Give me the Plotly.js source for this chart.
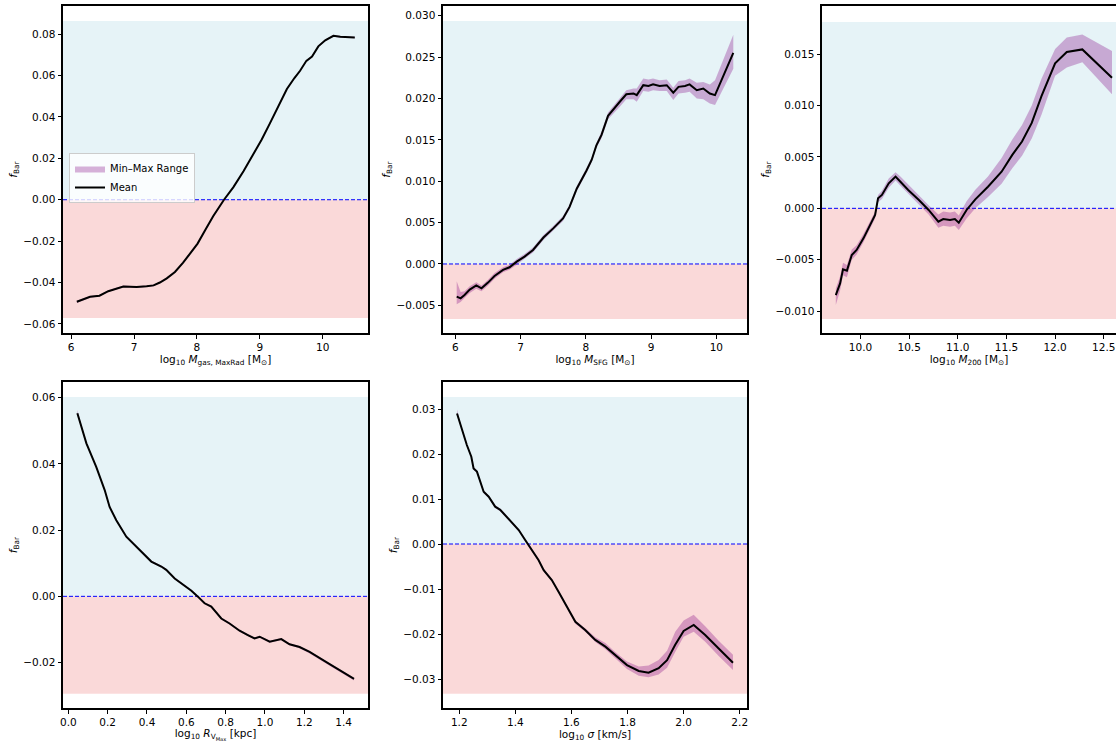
<!DOCTYPE html>
<html>
<head>
<meta charset="utf-8">
<script src="https://cdn.plot.ly/plotly-3.0.1.min.js"></script>
<style>html,body{margin:0;padding:0;background:#fff;}#chart{width:1116px;height:742px;}</style>
</head>
<body>
<div id="chart"></div>
<script>
// ---------- Panel 1: log10 M_gas,MaxRad ----------
const p1_x = [6.09,6.30,6.45,6.59,6.83,7.04,7.20,7.31,7.41,7.52,7.65,7.78,7.89,8.01,8.13,8.26,8.43,8.58,8.74,8.90,9.03,9.16,9.32,9.43,9.55,9.64,9.74,9.83,9.93,10.04,10.17,10.28,10.51];
const p1_mean = [-0.0493,-0.0469,-0.0464,-0.0442,-0.0419,-0.0422,-0.0418,-0.0414,-0.0400,-0.0380,-0.0349,-0.0304,-0.0260,-0.0212,-0.0148,-0.0079,0.0000,0.0061,0.0138,0.0222,0.0291,0.0369,0.0463,0.0535,0.0588,0.0623,0.0671,0.0692,0.0741,0.0770,0.0792,0.0787,0.0784];
const p1_min = [-0.0499,-0.0474,-0.0468,-0.0446,-0.0423,-0.0426,-0.0422,-0.0418,-0.0404,-0.0384,-0.0353,-0.0308,-0.0264,-0.0216,-0.0152,-0.0083,-0.0004,0.0057,0.0134,0.0218,0.0287,0.0365,0.0459,0.0531,0.0584,0.0619,0.0667,0.0688,0.0737,0.0766,0.0788,0.0783,0.0780];
const p1_max = [-0.0488,-0.0465,-0.0460,-0.0438,-0.0415,-0.0418,-0.0414,-0.0410,-0.0396,-0.0376,-0.0345,-0.0300,-0.0256,-0.0208,-0.0144,-0.0075,0.0004,0.0065,0.0142,0.0226,0.0295,0.0373,0.0467,0.0539,0.0592,0.0627,0.0675,0.0696,0.0745,0.0774,0.0797,0.0791,0.0788];
const p1_span = [-0.0572, 0.0864];

// ---------- Panel 2: log10 M_SFG ----------
const p2_x = [6.02,6.08,6.14,6.22,6.32,6.40,6.50,6.60,6.73,6.83,6.94,7.06,7.19,7.35,7.50,7.65,7.75,7.86,8.01,8.09,8.16,8.24,8.34,8.45,8.52,8.62,8.73,8.78,8.88,8.96,9.03,9.13,9.24,9.34,9.42,9.52,9.59,9.70,9.80,9.90,9.98,10.26];
const p2_mean = [-0.00395,-0.00415,-0.00375,-0.0031,-0.00258,-0.00294,-0.00225,-0.00145,-0.00072,-0.0004,0.00028,0.00089,0.0017,0.0032,0.0043,0.0055,0.0069,0.0091,0.0113,0.0126,0.0143,0.0156,0.0179,0.0190,0.0196,0.0205,0.0206,0.0204,0.0216,0.0215,0.0217,0.0215,0.0216,0.0207,0.0214,0.0215,0.0217,0.0210,0.0212,0.0206,0.0204,0.0255];
const p2_min = [-0.00488,-0.0046,-0.0041,-0.0035,-0.0030,-0.0033,-0.0026,-0.0018,-0.0010,-0.0007,-0.0001,0.0006,0.0014,0.0029,0.0040,0.0052,0.0066,0.0088,0.0110,0.0123,0.0140,0.0152,0.0175,0.0185,0.0190,0.0199,0.0199,0.0196,0.0209,0.0208,0.0210,0.0209,0.0209,0.0198,0.0206,0.0207,0.0208,0.0200,0.0199,0.0194,0.0192,0.0236];
const p2_max = [-0.0021,-0.0034,-0.0033,-0.0027,-0.0022,-0.0026,-0.0019,-0.0011,-0.0004,-0.0001,0.0006,0.0012,0.0020,0.0035,0.0046,0.0058,0.0072,0.0094,0.0116,0.0129,0.0146,0.0160,0.0183,0.0194,0.0201,0.0210,0.0212,0.0212,0.0224,0.0223,0.0224,0.0222,0.0223,0.0213,0.0221,0.0222,0.0224,0.0219,0.0220,0.0217,0.0222,0.0277];
const p2_span = [-0.00665, 0.02936];

// ---------- Panel 3: log10 M_200 ----------
const p3_x = [9.746,9.79,9.82,9.86,9.91,9.96,10.03,10.10,10.15,10.18,10.22,10.29,10.36,10.41,10.49,10.60,10.70,10.80,10.85,10.92,10.97,11.01,11.09,11.18,11.31,11.45,11.56,11.66,11.76,11.86,12.00,12.12,12.28,12.585];
const p3_mean = [-0.00843,-0.0073,-0.00593,-0.00606,-0.00454,-0.00405,-0.00292,-0.00162,-0.00065,0.00097,0.0013,0.00243,0.00308,0.00259,0.00178,0.00081,-0.00016,-0.0013,-0.00104,-0.00113,-0.00104,-0.0014,-0.00016,0.00087,0.0021,0.00356,0.0052,0.0065,0.0083,0.0109,0.0141,0.0152,0.01545,0.0127];
const p3_min = [-0.0094,-0.0080,-0.0065,-0.0067,-0.0050,-0.0045,-0.0033,-0.0020,-0.0010,0.0006,0.0009,0.0020,0.0027,0.0022,0.0014,0.0004,-0.0006,-0.0019,-0.0017,-0.0018,-0.0017,-0.0021,-0.0010,0.0000,0.0011,0.0024,0.0039,0.0051,0.0068,0.0091,0.0129,0.0137,0.0142,0.0111];
const p3_max = [-0.0078,-0.0066,-0.0053,-0.0055,-0.0040,-0.0036,-0.0025,-0.0013,-0.0003,0.0013,0.0017,0.0029,0.0035,0.0031,0.0023,0.0013,0.0003,-0.0006,-0.0003,-0.0004,-0.0003,-0.0007,0.0007,0.0018,0.0031,0.0049,0.0067,0.0081,0.0100,0.0126,0.0155,0.0166,0.0169,0.0153];
const p3_span = [-0.01076, 0.01811];

// ---------- Panel 4: log10 R_VMax ----------
const p4_x = [0.046,0.092,0.142,0.185,0.210,0.244,0.295,0.337,0.380,0.422,0.473,0.498,0.541,0.583,0.626,0.659,0.693,0.727,0.778,0.820,0.871,0.913,0.947,0.973,1.024,1.083,1.125,1.176,1.227,1.329,1.453];
const p4_mean = [0.0553,0.0462,0.0391,0.0321,0.0270,0.0230,0.0180,0.0155,0.0130,0.0105,0.0090,0.0080,0.0054,0.0037,0.0017,-0.0001,-0.0021,-0.0031,-0.0067,-0.0082,-0.0104,-0.0117,-0.0127,-0.0122,-0.0137,-0.0129,-0.0145,-0.0153,-0.0168,-0.0205,-0.0249];
const p4_min = [0.0550,0.0459,0.0388,0.0318,0.0267,0.0227,0.0177,0.0152,0.0127,0.0102,0.0087,0.0077,0.0051,0.0034,0.0014,-0.0004,-0.0024,-0.0034,-0.0070,-0.0085,-0.0107,-0.0120,-0.0130,-0.0125,-0.0140,-0.0132,-0.0148,-0.0157,-0.0173,-0.0210,-0.0254];
const p4_max = [0.0563,0.0465,0.0394,0.0324,0.0273,0.0233,0.0183,0.0158,0.0133,0.0108,0.0093,0.0083,0.0057,0.0040,0.0020,0.0002,-0.0018,-0.0028,-0.0064,-0.0079,-0.0101,-0.0114,-0.0124,-0.0119,-0.0134,-0.0126,-0.0142,-0.0150,-0.0165,-0.0202,-0.0246];
const p4_span = [-0.02941, 0.0602];

// ---------- Panel 5: log10 sigma ----------
const p5_x = [1.192,1.21,1.227,1.243,1.251,1.263,1.287,1.305,1.328,1.346,1.364,1.388,1.412,1.435,1.447,1.465,1.483,1.501,1.530,1.554,1.584,1.614,1.649,1.685,1.721,1.756,1.798,1.840,1.875,1.911,1.941,1.970,2.000,2.036,2.077,2.125,2.176];
const p5_mean = [0.0290,0.0253,0.0220,0.0194,0.0168,0.0161,0.0116,0.0105,0.0083,0.0076,0.0064,0.0046,0.0031,0.0009,-0.0002,-0.0017,-0.0036,-0.0058,-0.0080,-0.0106,-0.0139,-0.0173,-0.0191,-0.0213,-0.0228,-0.0247,-0.0269,-0.0282,-0.0286,-0.0276,-0.0258,-0.0224,-0.0193,-0.0180,-0.0202,-0.0232,-0.0264];
const p5_min = [0.0287,0.0250,0.0217,0.0191,0.0165,0.0158,0.0113,0.0102,0.0080,0.0073,0.0061,0.0043,0.0028,0.0006,-0.0005,-0.0020,-0.0039,-0.0061,-0.0083,-0.0109,-0.0142,-0.0177,-0.0195,-0.0218,-0.0234,-0.0254,-0.0278,-0.0293,-0.0296,-0.0290,-0.0275,-0.0240,-0.0206,-0.0195,-0.0217,-0.0249,-0.0280];
const p5_max = [0.0299,0.0256,0.0223,0.0197,0.0171,0.0164,0.0119,0.0108,0.0086,0.0079,0.0067,0.0049,0.0034,0.0012,0.0001,-0.0014,-0.0033,-0.0055,-0.0077,-0.0103,-0.0136,-0.0170,-0.0187,-0.0207,-0.0220,-0.0240,-0.0261,-0.0272,-0.0270,-0.0258,-0.0237,-0.0195,-0.0170,-0.0157,-0.0183,-0.0215,-0.0246];
const p5_span = [-0.03327, 0.03267];

const xTitles = [
  "log<sub>10</sub> <i>M</i><sub>gas, MaxRad</sub> [M<sub>⊙</sub>]",
  "log<sub>10</sub> <i>M</i><sub>SFG</sub> [M<sub>⊙</sub>]",
  "log<sub>10</sub> <i>M</i><sub>200</sub> [M<sub>⊙</sub>]",
  "log<sub>10</sub> <i>R</i><sub>V<sub>Max</sub></sub> [kpc]",
  "log<sub>10</sub> <i>σ</i> [km/s]"
];
const yTitle = "<i>f</i><sub>Bar</sub>";

const panels = [
  {x:p1_x, mean:p1_mean, lo:p1_min, hi:p1_max, span:p1_span},
  {x:p2_x, mean:p2_mean, lo:p2_min, hi:p2_max, span:p2_span},
  {x:p3_x, mean:p3_mean, lo:p3_min, hi:p3_max, span:p3_span},
  {x:p4_x, mean:p4_mean, lo:p4_min, hi:p4_max, span:p4_span},
  {x:p5_x, mean:p5_mean, lo:p5_min, hi:p5_max, span:p5_span}
];

// layout geometry (pixels)
const W = 1116, H = 742;
const geom = [
  {l:63, r:368, t:6, b:333, xr:[5.87,10.72], yr:[-0.0644,0.0936], xd:1, yd:0.02, xf:"d", yf:".2f"},
  {l:443, r:747, t:6, b:333, xr:[5.81,10.47], yr:[-0.00834,0.03117], xd:1, yd:0.005, xf:"d", yf:".3f"},
  {l:822, r:1116, t:6, b:333, xr:[9.604,12.626], yr:[-0.01212,0.01967], xd:0.5, yd:0.005, xf:".1f", yf:".3f"},
  {l:63, r:368, t:382, b:708, xr:[-0.027,1.524], yr:[-0.03373,0.06474], xd:0.2, yd:0.02, xf:".1f", yf:".2f"},
  {l:443, r:747, t:382, b:708, xr:[1.142,2.226], yr:[-0.03644,0.036], xd:0.2, yd:0.01, xf:".1f", yf:".2f"}
];

const FONT = "DejaVu Sans, sans-serif";
const traces = [];
const shapes = [];
const layout = {
  width: W, height: H,
  margin: {l:0, r:0, t:0, b:0},
  paper_bgcolor: "#ffffff",
  plot_bgcolor: "#ffffff",
  font: {family: FONT, color: "#000", size: 10.5},
  showlegend: true,
  legend: {
    x: 69/W, y: 1 - 153/H, xanchor: "left", yanchor: "top",
    bgcolor: "rgba(255,255,255,0.8)", bordercolor: "#cccccc", borderwidth: 1,
    font: {family: FONT, size: 10, color: "#000"},
    tracegroupgap: 0, itemwidth: 30
  },
  shapes: shapes
};

panels.forEach((p, i) => {
  const n = i + 1;
  const xa = n === 1 ? "x" : "x" + n;
  const ya = n === 1 ? "y" : "y" + n;
  const g = geom[i];
  layout[n === 1 ? "xaxis" : "xaxis" + n] = {
    domain: [g.l / W, g.r / W],
    anchor: ya,
    range: g.xr,
    dtick: g.xd, tick0: 0,
    tickformat: g.xf,
    ticks: "outside", ticklen: 3.5, tickwidth: 1, tickcolor: "#000",
    showgrid: false, zeroline: false,
    showline: true, linecolor: "#000", linewidth: 2, mirror: true,
    tickfont: {family: FONT, size: 10.5, color: "#000"},
    title: {text: xTitles[i], font: {family: FONT, size: 10.5, color: "#000"}, standoff: 3},
    automargin: false, fixedrange: true
  };
  layout[n === 1 ? "yaxis" : "yaxis" + n] = {
    domain: [1 - g.b / H, 1 - g.t / H],
    anchor: xa,
    range: g.yr,
    dtick: g.yd, tick0: 0,
    tickformat: g.yf,
    ticks: "outside", ticklen: 3.5, tickwidth: 1, tickcolor: "#000",
    showgrid: false, zeroline: false,
    showline: true, linecolor: "#000", linewidth: 2, mirror: n === 3 ? false : true,
    tickfont: {family: FONT, size: 10.5, color: "#000"},
    title: {text: yTitle, font: {family: FONT, size: 10.5, color: "#000"}, standoff: 4},
    automargin: false, fixedrange: true
  };
  // background spans
  shapes.push({type:"rect", xref: xa + " domain", yref: ya, x0:0, x1:1, y0:0, y1:p.span[1],
    fillcolor:"rgba(173,216,230,0.3)", line:{width:0}, layer:"below"});
  shapes.push({type:"rect", xref: xa + " domain", yref: ya, x0:0, x1:1, y0:p.span[0], y1:0,
    fillcolor:"rgba(240,128,128,0.3)", line:{width:0}, layer:"below"});
  shapes.push({type:"line", xref: xa + " domain", yref: ya, x0:0, x1:1, y0:0, y1:0,
    line:{color:"#0000ff", width:1, dash:"4px,2px"}, layer:"below"});
  // min-max band
  traces.push({x:p.x, y:p.lo, xaxis:xa, yaxis:ya, type:"scatter", mode:"lines",
    line:{width:0, color:"rgba(128,0,128,0)"}, showlegend:false, hoverinfo:"skip"});
  traces.push({x:p.x, y:p.hi, xaxis:xa, yaxis:ya, type:"scatter", mode:"lines",
    fill:"tonexty", fillcolor:"rgba(128,0,128,0.3)", line:{width:0, color:"rgba(128,0,128,0)"},
    name:"Min–Max Range", showlegend: n === 1, legendgroup:"band"});
  traces.push({x:p.x, y:p.mean, xaxis:xa, yaxis:ya, type:"scatter", mode:"lines",
    line:{color:"#000", width:2}, name:"Mean", showlegend: n === 1, legendgroup:"mean"});
});

Plotly.newPlot("chart", traces, layout, {displayModeBar:false, staticPlot:true});
</script>
</body>
</html>
